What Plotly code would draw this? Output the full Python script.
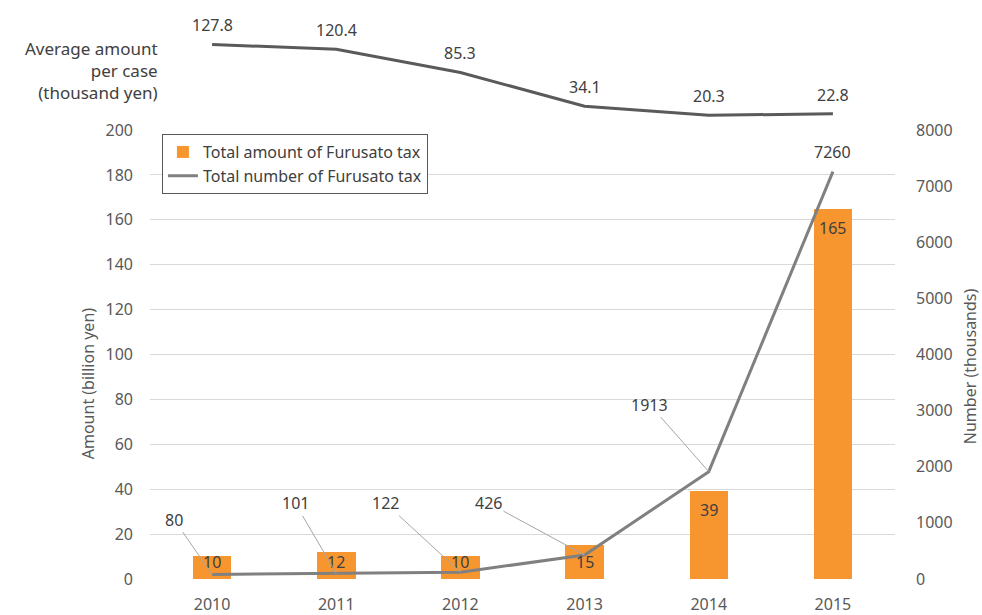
import plotly.graph_objects as go

years = ["2010", "2011", "2012", "2013", "2014", "2015"]
amount = [10, 12, 10, 15, 39, 165]            # billion yen (bars)
number = [80, 101, 122, 426, 1913, 7260]      # thousands (line)
avg_per_case = [127.8, 120.4, 85.3, 34.1, 20.3, 22.8]  # thousand yen
left_ticks = list(range(0, 201, 20))
right_ticks = list(range(0, 8001, 1000))

# leader-line label offsets (pixels) for the number series
label_offsets = [(-38, -55), (-41, -70), (-75, -69), (-96, -52), (-59, -67), None]
BAR_LABEL_MIN = 16   # short bars: label held at this level (like Excel inside-end clamping)

FONT = "Noto Sans"
TXT = "#595959"
DARK = "#404040"
ORANGE = "#F7952F"
LINE = "#808080"
TOPLINE = "#5a5a5a"

fig = go.Figure()

fig.add_trace(go.Bar(
    x=years, y=amount, name="Total amount of Furusato tax",
    marker=dict(color=ORANGE, line=dict(width=0)), width=0.31,
    xaxis="x", yaxis="y", hoverinfo="x+y",
))
fig.add_trace(go.Scatter(
    x=years, y=number, name="Total number of Furusato tax", mode="lines",
    line=dict(color=LINE, width=3), xaxis="x", yaxis="y2",
))
fig.add_trace(go.Scatter(
    x=years, y=avg_per_case, mode="lines",
    line=dict(color=TOPLINE, width=3), showlegend=False, xaxis="x", yaxis="y3",
))

annotations = []
# bar value labels
for i, v in enumerate(amount):
    annotations.append(dict(x=i, y=max(v, BAR_LABEL_MIN), xref="x", yref="y", text=str(v),
                            showarrow=False, yshift=-19,
                            font=dict(family=FONT, size=16, color=DARK)))
# average-per-case labels
for i, v in enumerate(avg_per_case):
    annotations.append(dict(x=i, y=v, xref="x", yref="y3", text=f"{v:.1f}",
                            showarrow=False, yshift=19,
                            font=dict(family=FONT, size=16, color=DARK)))
# number labels with leader lines
for i, (v, off) in enumerate(zip(number, label_offsets)):
    if off is None:
        annotations.append(dict(x=i, y=v, xref="x", yref="y2", text=str(v), showarrow=False,
                                yshift=20, font=dict(family=FONT, size=16, color=DARK)))
    else:
        annotations.append(dict(x=i, y=v, xref="x", yref="y2", text=str(v), showarrow=True,
                                axref="pixel", ayref="pixel",
                                ax=off[0], ay=off[1], arrowhead=0, arrowwidth=1,
                                arrowcolor="#a6a6a6", standoff=0,
                                font=dict(family=FONT, size=16, color=DARK)))

annotations += [
    dict(text="Amount (billion yen)", xref="paper", yref="paper", x=0, y=0.344,
         xshift=-62, xanchor="center", yanchor="middle", textangle=-90, showarrow=False,
         font=dict(family=FONT, size=16, color=TXT)),
    dict(text="Number (thousands)", xref="paper", yref="paper", x=1, y=0.374,
         xshift=75, xanchor="center", yanchor="middle", textangle=-90, showarrow=False,
         font=dict(family=FONT, size=16, color=TXT)),
    dict(text="Average amount<br>per case<br>(thousand yen)", xref="paper", yref="paper",
         x=0, y=1, xshift=10, yshift=-25, xanchor="right", yanchor="top", align="right",
         showarrow=False, font=dict(family=FONT, size=17, color=DARK)),
]

fig.update_layout(
    width=982, height=615,
    margin=dict(l=150, r=87, t=10, b=36, autoexpand=False),
    paper_bgcolor="white", plot_bgcolor="white",
    font=dict(family=FONT, size=16, color=TXT),
    bargap=0,
    xaxis=dict(type="category", range=[-0.5, 5.5], showgrid=False, showline=False,
               ticks="", ticklabelstandoff=14, automargin=False,
               tickfont=dict(size=16, color=TXT)),
    yaxis=dict(domain=[0, 0.789], range=[0, 200], tickvals=left_ticks,
               showgrid=True, gridcolor="#d9d9d9", gridwidth=1, zeroline=False,
               showline=False, ticks="", ticklabelstandoff=16, automargin=False,
               tickfont=dict(size=16, color=TXT)),
    yaxis2=dict(domain=[0, 0.789], range=[0, 8000], tickvals=right_ticks, overlaying="y",
                side="right", anchor="x", showgrid=False, zeroline=False, showline=False,
                ticks="", ticklabelstandoff=20, automargin=False,
                tickfont=dict(size=16, color=TXT)),
    yaxis3=dict(domain=[0.789, 1], range=[-2, 180], visible=False, anchor="x",
                automargin=False),
    legend=dict(x=0.016, y=0.782, xanchor="left", yanchor="top",
                bordercolor="#595959", borderwidth=1, bgcolor="white",
                font=dict(family=FONT, size=16, color=DARK),
                tracegroupgap=0, itemwidth=30),
    annotations=annotations,
    showlegend=True,
)

fig.write_html("out.html", config={"displayModeBar": False},
               post_script="document.body.style.margin='0';")
